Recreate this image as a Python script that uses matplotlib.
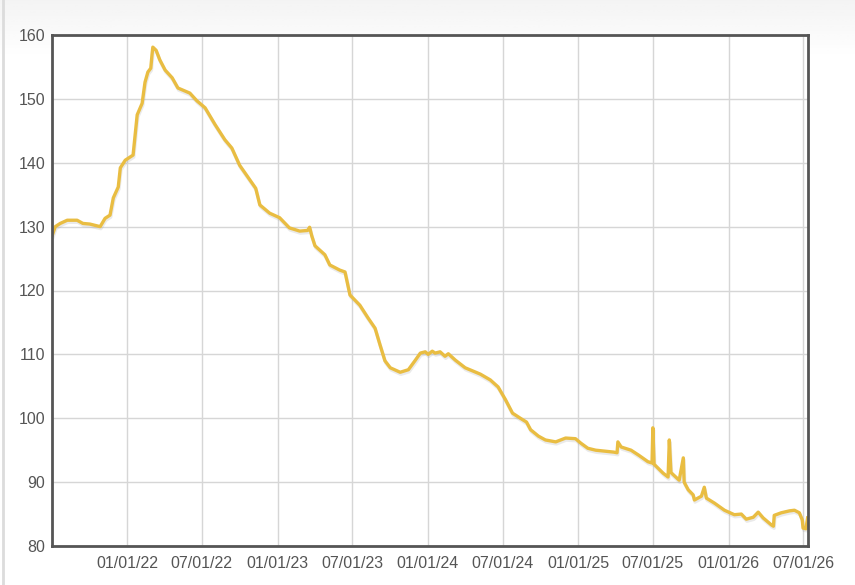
import numpy as np
import pandas as pd
import matplotlib
matplotlib.use("Agg")
import matplotlib.pyplot as plt
import matplotlib.dates as mdates
import matplotlib.patheffects as pe

dates = [
    "2021-07-03", "2021-07-10", "2021-07-22", "2021-08-08", "2021-09-01", "2021-09-15",
    "2021-10-02", "2021-10-27", "2021-11-08", "2021-11-20", "2021-11-28", "2021-12-10",
    "2021-12-15", "2021-12-27", "2022-01-15", "2022-01-20", "2022-01-25", "2022-02-06",
    "2022-02-13", "2022-02-20", "2022-02-27", "2022-03-02", "2022-03-04", "2022-03-12",
    "2022-03-21", "2022-04-03", "2022-04-20", "2022-05-04", "2022-06-02", "2022-06-19",
    "2022-07-09", "2022-08-02", "2022-08-26", "2022-09-12", "2022-10-01", "2022-10-26",
    "2022-11-09", "2022-11-19", "2022-12-13", "2023-01-06", "2023-01-30", "2023-02-24",
    "2023-03-15", "2023-03-20", "2023-03-25", "2023-04-02", "2023-04-26", "2023-05-08",
    "2023-06-01", "2023-06-14", "2023-06-26", "2023-07-20", "2023-08-09", "2023-08-26",
    "2023-09-07", "2023-09-19", "2023-10-02", "2023-10-26", "2023-11-15", "2023-12-02",
    "2023-12-14", "2023-12-26", "2024-01-02", "2024-01-12", "2024-01-19", "2024-01-31",
    "2024-02-12", "2024-02-20", "2024-03-08", "2024-04-01", "2024-05-08", "2024-06-01",
    "2024-06-20", "2024-07-08", "2024-07-25", "2024-08-13", "2024-08-28", "2024-09-07",
    "2024-09-26", "2024-10-13", "2024-11-07", "2024-12-01", "2024-12-25", "2025-01-07",
    "2025-01-24", "2025-02-12", "2025-03-28", "2025-04-05", "2025-04-07", "2025-04-15",
    "2025-05-09", "2025-05-28", "2025-06-19", "2025-06-29", "2025-07-01", "2025-07-04",
    "2025-07-26", "2025-08-07", "2025-08-10", "2025-08-14", "2025-09-03", "2025-09-13",
    "2025-09-15", "2025-09-25", "2025-10-07", "2025-10-10", "2025-10-27", "2025-11-03",
    "2025-11-08", "2025-11-28", "2025-12-22", "2026-01-15", "2026-02-01", "2026-02-13",
    "2026-03-02", "2026-03-14", "2026-03-26", "2026-04-15", "2026-04-20", "2026-04-22",
    "2026-05-09", "2026-05-29", "2026-06-10", "2026-06-22", "2026-06-29", "2026-07-01",
    "2026-07-08", "2026-07-12",
]
values = [
    128.7, 130.0, 130.5, 131.0, 131.0, 130.5,
    130.4, 130.0, 131.3, 131.8, 134.5, 136.2,
    139.2, 140.4, 141.2, 144.3, 147.5, 149.3,
    152.6, 154.2, 154.8, 156.9, 158.1, 157.6,
    156.1, 154.5, 153.3, 151.7, 150.9, 149.7,
    148.6, 146.0, 143.6, 142.3, 139.6, 137.3,
    136.0, 133.4, 132.1, 131.4, 129.8, 129.3,
    129.4, 129.9, 128.6, 127.0, 125.6, 124.0,
    123.2, 122.9, 119.3, 117.7, 115.7, 114.1,
    111.5, 109.0, 107.9, 107.2, 107.6, 109.1,
    110.2, 110.4, 110.0, 110.5, 110.2, 110.4,
    109.7, 110.1, 109.1, 107.9, 106.9, 106.0,
    104.9, 102.9, 100.8, 100.0, 99.4, 98.2,
    97.2, 96.6, 96.3, 96.9, 96.8, 96.1,
    95.3, 95.0, 94.7, 94.6, 96.3, 95.5,
    95.0, 94.2, 93.2, 93.0, 98.5, 92.8,
    91.4, 90.8, 96.6, 91.5, 90.3, 93.8,
    90.0, 88.8, 88.0, 87.2, 87.8, 89.2,
    87.5, 86.7, 85.6, 84.9, 85.0, 84.2,
    84.5, 85.3, 84.4, 83.3, 83.1, 84.8,
    85.2, 85.5, 85.6, 85.2, 84.1, 82.8,
    82.7, 84.4,
]

x = pd.to_datetime(dates)

fig = plt.figure(figsize=(8.55, 5.85), dpi=100)
fig.patch.set_facecolor("white")

# faint gray gradient behind the chart
bg = fig.add_axes([0, 0, 1, 1], zorder=-10)
grad = np.ones((200, 2))
grad[:20, :] = np.linspace(0.955, 1.0, 20)[:, None]
bg.imshow(grad, cmap="gray", vmin=0, vmax=1, aspect="auto", extent=[0, 1, 0, 1])
bg.axvline(0.003, color="#dcdcdc", lw=2)
bg.set_axis_off()

ax = fig.add_axes([52 / 855, 39 / 585, 756 / 855, 511 / 585])
ax.set_facecolor("white")
ax.plot(x, values, color="#e9bd42", lw=2.4, solid_joinstyle="round",
        path_effects=[pe.SimpleLineShadow(offset=(0.5, -1.5), shadow_color="#999999", alpha=0.2),
                      pe.Normal()])

ax.set_ylim(80, 160)
ax.set_yticks(range(80, 161, 10))
ax.set_xlim(pd.Timestamp("2021-07-02"), pd.Timestamp("2026-07-13"))
ax.xaxis.set_major_locator(mdates.MonthLocator(bymonth=[1, 7]))
ax.xaxis.set_major_formatter(mdates.DateFormatter("%m/%d/%y"))
fig.canvas.draw()
labels = [t.get_text() for t in ax.get_xticklabels()]
ax.set_xticks(ax.get_xticks())
ax.set_xticklabels([l if l != "07/01/21" else "" for l in labels])

ax.grid(True, color="#d6d6d6", lw=1)
ax.set_axisbelow(True)
ax.tick_params(length=0, labelsize=11.5, labelcolor="#555555")
ax.tick_params(axis="y", pad=5)
ax.tick_params(axis="x", pad=7)
for t in ax.get_xticklabels() + ax.get_yticklabels():
    t.set_fontfamily("Liberation Sans")
for s in ax.spines.values():
    s.set_color("#555555")
    s.set_linewidth(2)

fig.savefig("out.png", dpi=100)
